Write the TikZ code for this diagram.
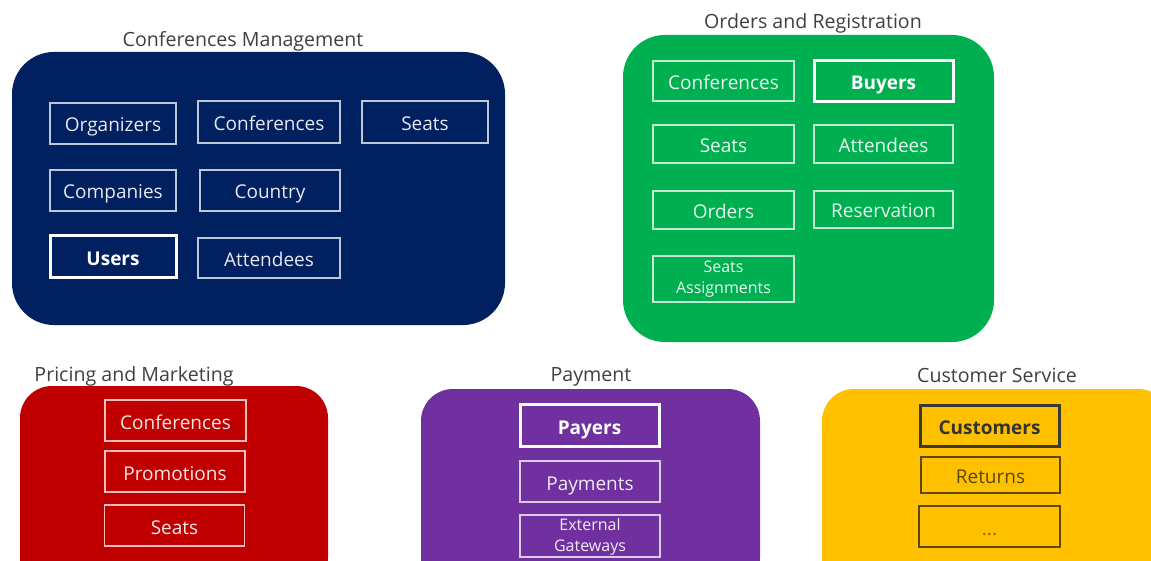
\documentclass[tikz,border=0pt]{standalone}
\usepackage{fontspec}
\setmainfont{Open Sans}
\definecolor{navy}{HTML}{002060}
\definecolor{grn}{HTML}{00B050}
\definecolor{rd}{HTML}{C00000}
\definecolor{prp}{HTML}{7030A0}
\definecolor{gld}{HTML}{FFC000}
\definecolor{ttl}{HTML}{404040}
\definecolor{brn}{HTML}{5C4600}
\begin{document}
\begin{tikzpicture}[x=1pt,y=-1pt,
  title/.style={text=ttl,font=\fontsize{19.6}{22}\selectfont,anchor=center,inner sep=0,text height=17pt,text depth=0pt},
  base/.style={inner sep=0,anchor=center,text height=17pt,text depth=0pt},
  item/.style={base,draw=white,draw opacity=0.75,line width=1.4pt,text=white,text opacity=0.9,
     font=\fontsize{19}{20}\selectfont},
  bitem/.style={base,draw=white,line width=3pt,text=white,font=\bfseries\fontsize{19}{20}\selectfont},
  yitem/.style={base,draw=brn,line width=1.6pt,text=brn,font=\fontsize{19}{20}\selectfont},
  ybitem/.style={base,draw=ttl!90!black,line width=3pt,text=ttl!80!black,font=\bfseries\fontsize{19}{20}\selectfont},
  multi/.style={align=center,font=\fontsize{16}{21}\selectfont,text height=,text depth=}
]
\useasboundingbox (0,0) rectangle (1151,561);
\clip (0,0) rectangle (1151,561);
\fill[white] (0,0) rectangle (1151,561);

% Conferences Management
\fill[navy,rounded corners=42pt] (12,52) rectangle (505,325);
\node[title] (t1) at (243,38) {Conferences Management};
\node[item,minimum width=126pt,minimum height=41pt] (cm1) at (113,123.5) {Organizers};
\node[item,minimum width=142pt,minimum height=42pt] (cm2) at (269,122) {Conferences};
\node[item,minimum width=126pt,minimum height=42pt] (cm3) at (425,122) {Seats};
\node[item,minimum width=126pt,minimum height=41pt] (cm4) at (113,190.5) {Companies};
\node[item,minimum width=140pt,minimum height=41pt] (cm5) at (270,190.5) {Country};
\node[bitem,minimum width=126pt,minimum height=42pt] (cm6) at (113,257) {Users};
\node[item,minimum width=142pt,minimum height=40pt] (cm7) at (269,258) {Attendees};

% Orders and Registration
\fill[grn,rounded corners=42pt] (623,35) rectangle (994,342);
\node[title] (t2) at (813,20) {Orders and Registration};
\node[item,minimum width=141pt,minimum height=40pt] (or1) at (723.5,81) {Conferences};
\node[bitem,minimum width=139pt,minimum height=41pt] (or2) at (883.5,81.5) {Buyers};
\node[item,minimum width=141pt,minimum height=38pt] (or3) at (723.5,144) {Seats};
\node[item,minimum width=139pt,minimum height=38pt] (or4) at (883.5,144) {Attendees};
\node[item,minimum width=141pt,minimum height=38pt] (or5) at (723.5,210) {Orders};
\node[item,minimum width=139pt,minimum height=37pt] (or6) at (883.5,209.5) {Reservation};
\node[item,multi,minimum width=141pt,minimum height=46pt] (or7) at (723.5,279) {Seats\\Assignments};

% Pricing and Marketing
\fill[rd,rounded corners=32pt] (20,386) rectangle (328,590);
\node[title] (t3) at (134,373) {Pricing and Marketing};
\node[item,minimum width=141pt,minimum height=41pt] (pm1) at (175.5,420.5) {Conferences};
\node[item,minimum width=140pt,minimum height=41pt] (pm2) at (175,471.5) {Promotions};
\node[item,minimum width=140pt,minimum height=41pt] (pm3) at (174.5,525.5) {Seats};

% Payment
\fill[prp,rounded corners=32pt] (421,389) rectangle (760,590);
\node[title] (t4) at (591,373) {Payment};
\node[bitem,minimum width=139pt,minimum height=42pt] (pa1) at (589.5,425.5) {Payers};
\node[item,minimum width=140pt,minimum height=41pt] (pa2) at (590,481.5) {Payments};
\node[item,multi,minimum width=140pt,minimum height=42pt] (pa3) at (590,536) {\rule{0pt}{13pt}External\\Gateways};

% Customer Service
\fill[gld,rounded corners=32pt] (822,389) rectangle (1170,590);
\node[title] (t5) at (997,374) {Customer Service};
\node[ybitem,minimum width=139pt,minimum height=41pt] (cs1) at (989.5,425.5) {Customers};
\node[yitem,minimum width=139pt,minimum height=36pt] (cs2) at (990.5,475) {Returns};
\node[yitem,text=brn!70!gld,minimum width=141pt,minimum height=41pt] (cs3) at (989.5,526.5) {...};
\end{tikzpicture}
\end{document}
